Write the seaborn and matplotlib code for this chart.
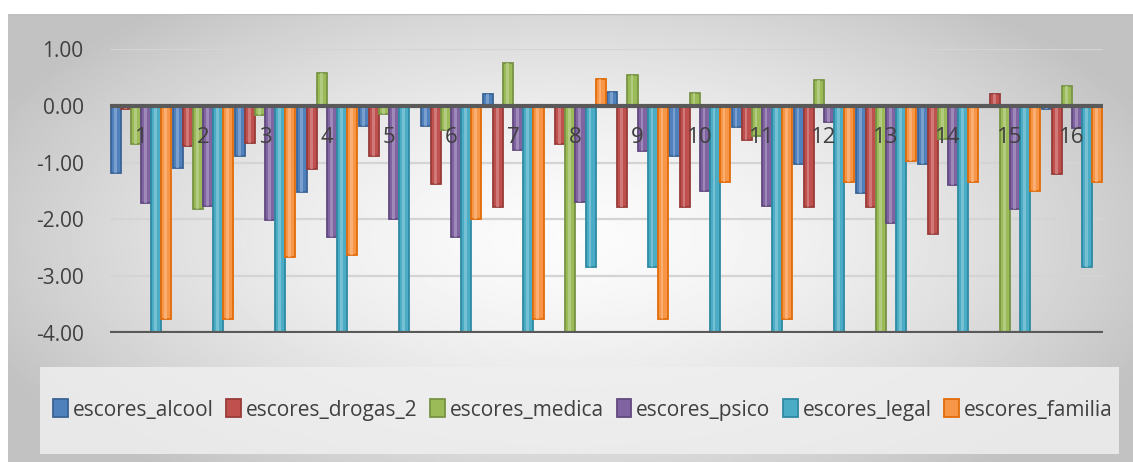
import numpy as np
import pandas as pd
import matplotlib
matplotlib.use("Agg")
import matplotlib.pyplot as plt
from matplotlib.patches import Patch, Rectangle
import matplotlib.colors as mcolors
import seaborn as sns

# Scores per case (16 cases, six domains)
casos = [str(i) for i in range(1, 17)]
series = ["escores_alcool", "escores_drogas_2", "escores_medica",
          "escores_psico", "escores_legal", "escores_familia"]

escores_alcool = [-1.18, -1.09, -0.88, -1.52, -0.35, -0.35, 0.20, -0.02,
                  0.25, -0.88, -0.38, -1.03, -1.53, -1.03, -0.02, -0.05]
escores_drogas_2 = [-0.05, -0.71, -0.65, -1.11, -0.89, -1.37, -1.78, -0.67,
                    -1.78, -1.78, -0.60, -1.78, -1.78, -2.25, 0.20, -1.20]
escores_medica = [-0.68, -1.81, -0.16, 0.57, -0.15, -0.42, 0.75, -4.00,
                  0.55, 0.22, -0.54, 0.45, -4.00, -0.58, -4.00, 0.35]
escores_psico = [-1.72, -1.77, -2.01, -2.31, -1.99, -2.31, -0.77, -1.69,
                 -0.80, -1.50, -1.77, -0.28, -2.07, -1.39, -1.81, -0.39]
escores_legal = [-4.00, -4.00, -4.00, -4.00, -4.00, -4.00, -4.00, -2.83,
                 -2.83, -4.00, -4.00, -4.00, -4.00, -4.00, -4.00, -2.83]
escores_familia = [-3.75, -3.75, -2.66, -2.63, 0.02, -2.00, -3.75, 0.47,
                   -3.75, -1.35, -3.75, -1.35, -0.97, -1.35, -1.50, -1.35]

tick_vals = [1.0, 0.0, -1.0, -2.0, -3.0, -4.0]

cores = ["#4F81BD", "#C0504D", "#9BBB59", "#8064A2", "#4BACC6", "#F79646"]
bordas = ["#3A6396", "#983B39", "#789444", "#62497F", "#2F8AA3", "#E26B0A"]

valores = [escores_alcool, escores_drogas_2, escores_medica,
           escores_psico, escores_legal, escores_familia]
df = pd.DataFrame({
    "caso": np.tile(casos, len(series)),
    "serie": np.repeat(series, len(casos)),
    "valor": np.concatenate(valores),
})

sns.set_theme(style="white")
plt.rcParams["font.family"] = ["Open Sans", "DejaVu Sans"]
plt.rcParams["axes.unicode_minus"] = False

W, H = 1133, 462
fig = plt.figure(figsize=(W / 100, H / 100), dpi=100)
fig.patch.set_facecolor("white")

# radial grey gradient behind the chart
bg = fig.add_axes([8 / W, 0, 1 - 8 / W, (H - 14) / H], zorder=-10)
yy, xx = np.mgrid[-1:1:300j, -1:1:800j]
r = np.sqrt((xx / 1.05) ** 2 + (yy / 1.25) ** 2)
grad = np.clip(0.985 - 0.20 * r ** 1.6, 0.76, 1)
bg.imshow(grad, cmap="gray", vmin=0, vmax=1, aspect="auto",
          extent=[0, 1, 0, 1], interpolation="bilinear")
bg.set_axis_off()
bg.add_patch(Rectangle((0, 0.999), 1, 0.001, transform=bg.transAxes,
                       color="#BFBFBF", lw=1))

ax = fig.add_axes([110 / W, 1 - 333 / H, (1103 - 110) / W, (333 - 49) / H])
ax.set_facecolor("none")

for y in [1, -1, -2, -3]:
    ax.axhline(y, color="#D4D4D4", lw=1.6, zorder=0)

sns.barplot(data=df, x="caso", y="valor", hue="serie", order=casos,
            hue_order=series, palette=cores, width=0.97, saturation=1,
            errorbar=None, legend=False, ax=ax, zorder=2)

# darker rim plus a soft highlight stripe on every bar
n = len(casos)
for i, bar in enumerate(list(ax.patches[: n * len(series)])):
    s = i // n
    bar.set_edgecolor(bordas[s])
    bar.set_linewidth(1.3)
    x0, y0 = bar.get_x(), bar.get_y()
    w, h = bar.get_width(), bar.get_height()
    light = mcolors.to_rgb(cores[s])
    light = tuple(c + (1 - c) * 0.35 for c in light)
    ax.add_patch(Rectangle((x0 + 0.30 * w, y0), 0.28 * w, h,
                           facecolor=light, edgecolor="none", alpha=0.7,
                           zorder=2.1))

ax.axhline(0, color="#595959", lw=3, zorder=3)
ax.axhline(-4, color="#595959", lw=3, zorder=3)

ax.set_ylim(-4, 1)
ax.set_xlim(-0.5, n - 0.5)
ax.set_yticks(tick_vals)
ax.set_yticklabels([f"{v:.2f}" for v in tick_vals], fontsize=15,
                   color="#404040")
ax.tick_params(axis="y", length=0, pad=19)
ax.set_xticks([])
ax.set_xlabel("")
ax.set_ylabel("")
for sp in ax.spines.values():
    sp.set_visible(False)

# case numbers drawn just below the zero line
for i, c in enumerate(casos):
    ax.text(i, -0.55, c, ha="center", va="center", fontsize=16,
            color="#404040", zorder=5)

# legend panel
fig.add_artist(Rectangle((40 / W, 1 - 454 / H), (1119 - 40) / W, 87 / H,
                         transform=fig.transFigure, facecolor="#EFEFEF",
                         edgecolor="none", alpha=0.85, zorder=-5))
handles = [Patch(facecolor=c, edgecolor=b, lw=1.3) for c, b in zip(cores, bordas)]
fig.legend(handles, series, loc="center", bbox_to_anchor=(583 / W, 1 - 410 / H),
           ncol=6, frameon=False, fontsize=15, handlelength=0.7,
           handleheight=0.95, handletextpad=0.25, columnspacing=0.6,
           labelcolor="#404040")

fig.savefig("out.png", dpi=100)
